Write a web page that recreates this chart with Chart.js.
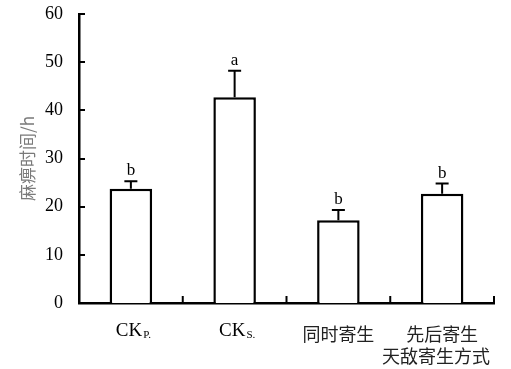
<!DOCTYPE html>
<html>
<head>
<meta charset="utf-8">
<script src="https://cdn.jsdelivr.net/npm/chart.js@4/dist/chart.umd.min.js"></script>
<style>
html,body{margin:0;padding:0;background:#fff;}
#wrap{width:511px;height:369px;}
</style>
</head>
<body>
<div id="wrap"><canvas id="c" width="511" height="369"></canvas></div>
<script>
// ---- data ----
const categories = ['CKP.', 'CKS.', '同时寄生', '先后寄生'];
const labelMain = ['CK', 'CK', '同时寄生', '先后寄生'];
const labelSub = ['P.', 'S.', '', ''];
const means = [23.7, 42.7, 17.2, 22.7];
const errors = [1.6, 5.5, 2.1, 2.1];
const letters = ['b', 'a', 'b', 'b'];
const yTicks = [0, 10, 20, 30, 40, 50, 60];
const yTitle = '麻痹时间/h';
const xTitle = '天敌寄生方式';

const SERIF = '"Liberation Serif", "Times New Roman", serif';
const CJK = '"Noto Sans CJK SC", sans-serif';

const decor = {
  id: 'decor',
  afterDatasetsDraw(chart) {
    const ctx = chart.ctx;
    const xs = chart.scales.x, ys = chart.scales.y;
    const area = chart.chartArea;
    const meta = chart.getDatasetMeta(0);
    ctx.save();
    ctx.strokeStyle = '#000';
    ctx.lineWidth = 2;
    // error bars + letters
    meta.data.forEach((bar, i) => {
      const x = bar.x;
      const yTop = ys.getPixelForValue(means[i]);
      const yErr = ys.getPixelForValue(means[i] + errors[i]);
      ctx.beginPath();
      ctx.moveTo(x, yTop);
      ctx.lineTo(x, yErr);
      ctx.moveTo(x - 6.5, yErr);
      ctx.lineTo(x + 6.5, yErr);
      ctx.stroke();
      ctx.fillStyle = '#000';
      ctx.font = '17px ' + SERIF;
      ctx.textAlign = 'center';
      ctx.textBaseline = 'alphabetic';
      ctx.fillText(letters[i], x, yErr - 6);
    });
    // y tick marks (inward)
    yTicks.forEach(v => {
      const y = Math.round(ys.getPixelForValue(v));
      ctx.beginPath();
      ctx.moveTo(area.left, y);
      ctx.lineTo(area.left + 6, y);
      ctx.stroke();
    });
    // x tick marks at category boundaries (inward)
    for (let i = 0; i < categories.length; i++) {
      let bx;
      if (i < categories.length - 1) {
        bx = (xs.getPixelForValue(i) + xs.getPixelForValue(i + 1)) / 2;
      } else {
        bx = area.right;
      }
      ctx.beginPath();
      ctx.moveTo(bx, area.bottom);
      ctx.lineTo(bx, area.bottom - 7);
      ctx.stroke();
    }
    // x labels
    ctx.fillStyle = '#000';
    for (let i = 0; i < categories.length; i++) {
      const cx = xs.getPixelForValue(i);
      if (labelSub[i]) {
        ctx.font = '19px ' + SERIF;
        const w1 = ctx.measureText(labelMain[i]).width;
        ctx.font = '11px ' + SERIF;
        const w2 = ctx.measureText(labelSub[i]).width;
        const start = cx + 2 - (w1 + w2) / 2;
        ctx.textAlign = 'left';
        ctx.textBaseline = 'alphabetic';
        ctx.font = '19px ' + SERIF;
        ctx.fillText(labelMain[i], start, 336);
        ctx.font = '11px ' + SERIF;
        ctx.fillText(labelSub[i], start + w1 + 1, 338);
      } else {
        ctx.font = '18px ' + CJK;
        ctx.textAlign = 'center';
        ctx.textBaseline = 'middle';
        ctx.fillStyle = '#222';
        ctx.fillText(labelMain[i], cx, 334);
        ctx.fillStyle = '#000';
      }
    }
    // x axis title
    ctx.font = '18px ' + CJK;
    ctx.fillStyle = '#222';
    ctx.textAlign = 'right';
    ctx.textBaseline = 'middle';
    ctx.fillText(xTitle, 490, 356);
    ctx.restore();
  }
};

new Chart(document.getElementById('c'), {
  type: 'bar',
  data: {
    labels: categories,
    datasets: [{
      data: means,
      backgroundColor: '#fff',
      borderColor: '#000',
      borderWidth: 2.5,
      borderSkipped: 'bottom',
      barPercentage: 0.41,
      categoryPercentage: 1.0
    }]
  },
  options: {
    responsive: false,
    animation: false,
    devicePixelRatio: 1,
    layout: { padding: { top: 14, right: 17, left: 0, bottom: 0 } },
    plugins: { legend: { display: false }, tooltip: { enabled: false } },
    scales: {
      x: {
        type: 'category',
        offset: true,
        grid: { display: false, drawTicks: false },
        border: { display: true, color: '#000', width: 2.5 },
        ticks: { display: false },
        afterFit(s) { s.height = 66; s.paddingLeft = 0; s.paddingRight = 0; }
      },
      y: {
        min: 0, max: 60,
        grid: { display: false, drawTicks: false },
        border: { display: true, color: '#000', width: 2.5 },
        afterBuildTicks(s) { s.ticks = yTicks.map(v => ({ value: v })); },
        ticks: {
          color: '#000',
          font: { family: SERIF, size: 18 },
          padding: 16
        },
        title: {
          display: true,
          text: yTitle,
          color: '#7a7a7a',
          font: { family: CJK, size: 17 },
          padding: { top: 17, bottom: 0 }
        },
        afterFit(s) { s.width = 79; s.paddingTop = 0; s.paddingBottom = 0; }
      }
    }
  },
  plugins: [decor]
});
</script>
</body>
</html>
